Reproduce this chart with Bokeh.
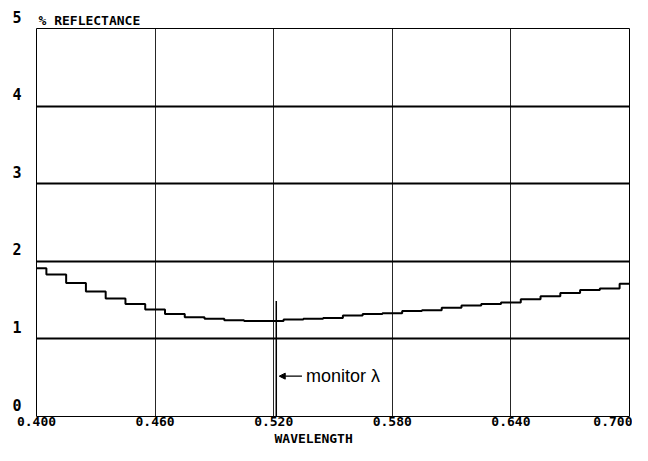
from bokeh.plotting import figure
from bokeh.models import Range1d, FixedTicker, Label, Arrow, NormalHead, Title
from bokeh.embed import file_html
from bokeh.resources import INLINE

# ---- data ----
wavelength = [0.40, 0.41, 0.42, 0.43, 0.44, 0.45, 0.46, 0.47, 0.48, 0.49,
              0.50, 0.51, 0.52, 0.53, 0.54, 0.55, 0.56, 0.57, 0.58, 0.59,
              0.60, 0.61, 0.62, 0.63, 0.64, 0.65, 0.66, 0.67, 0.68, 0.69, 0.70]
reflectance = [1.91, 1.83, 1.72, 1.61, 1.52, 1.45, 1.38, 1.32, 1.28, 1.26,
               1.24, 1.23, 1.23, 1.25, 1.26, 1.27, 1.30, 1.32, 1.33, 1.36,
               1.37, 1.40, 1.43, 1.45, 1.47, 1.51, 1.55, 1.59, 1.63, 1.65, 1.71]
x_ticks = [0.400, 0.460, 0.520, 0.580, 0.640, 0.700]
x_tick_labels = ["0.400", "0.460", "0.520", "0.580", "0.640", "0.700"]
y_ticks = [0, 1, 2, 3, 4, 5]
y_tick_labels = ["0", "1", "2", "3", "4", "5"]
monitor_wavelength = 0.5213
monitor_top = 1.49
monitor_arrow_y = 0.52

MONO = "DejaVu Sans Mono"

p = figure(width=632, height=445, output_backend="svg", toolbar_location=None,
           x_range=Range1d(0.4, 0.7), y_range=Range1d(0, 5),
           min_border_left=36, min_border_right=3, min_border_top=28, min_border_bottom=28)
p.background_fill_color = "white"
p.border_fill_color = "white"
p.outline_line_color = "black"
p.outline_line_width = 1

# title (y-axis quantity)
p.title.text = "% REFLECTANCE"
p.title.align = "left"
p.title.offset = 2
p.title.standoff = 2
p.title.text_font = MONO
p.title.text_font_style = "bold"
p.title.text_font_size = "13px"
p.title.text_color = "black"

# grid
p.xaxis.ticker = FixedTicker(ticks=x_ticks)
p.yaxis.ticker = FixedTicker(ticks=y_ticks)
p.xgrid.grid_line_color = "black"
p.xgrid.grid_line_width = 1
p.xgrid.grid_line_alpha = 0.85
p.ygrid.grid_line_color = "black"
p.ygrid.grid_line_width = 2

# axes
for ax in (p.xaxis[0], p.yaxis[0]):
    ax.axis_line_color = None
    ax.major_tick_line_color = None
    ax.minor_tick_line_color = None
    ax.major_tick_out = 0
    ax.major_tick_in = 0
    ax.minor_tick_out = 0
    ax.major_label_text_font = MONO
    ax.major_label_text_font_style = "bold"
    ax.major_label_text_color = "black"
p.xaxis.major_label_text_font_size = "13px"
p.yaxis.major_label_text_font_size = "15px"
p.xaxis.major_label_overrides = {t: s for t, s in zip(x_ticks, x_tick_labels)}
# an empty second line lifts each y label so that it sits on its grid line
p.yaxis.major_label_overrides = {t: s + "\n" for t, s in zip(y_ticks, y_tick_labels)}
p.xaxis.major_label_standoff = 0
p.yaxis.major_label_standoff = 15

# x-axis quantity, placed under the 0.520 tick
p.add_layout(Title(text="WAVELENGTH", align="left", offset=238, standoff=0,
                   text_font=MONO, text_font_style="bold", text_font_size="13px",
                   text_color="black"), "below")

# curve
p.step(wavelength, reflectance, mode="center", line_color="black", line_width=2)

# monitor line
p.segment(x0=[monitor_wavelength], y0=[0], x1=[monitor_wavelength], y1=[monitor_top],
          line_color="black", line_width=1.5)
p.add_layout(Arrow(end=NormalHead(size=6, fill_color="black", line_color="black"),
                   x_start=0.5343, y_start=monitor_arrow_y,
                   x_end=monitor_wavelength + 0.0015, y_end=monitor_arrow_y,
                   line_color="black", line_width=1.2))
p.add_layout(Label(x=0.5363, y=monitor_arrow_y, text="monitor λ",
                   text_font="Liberation Sans", text_font_size="18px",
                   text_baseline="middle", text_color="black"))

open("out.html", "w").write(file_html(p, INLINE))
